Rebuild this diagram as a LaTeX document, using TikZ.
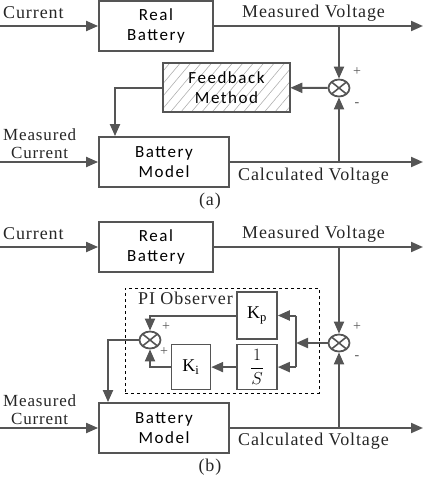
\documentclass[tikz,border=0pt]{standalone}
\usepackage{fontspec}
\setmainfont[LetterSpace=5]{Liberation Serif}
\newfontfamily\blockfont[LetterSpace=9]{Carlito}
\usetikzlibrary{positioning,shapes.geometric,arrows.meta,patterns.meta}
\definecolor{linegray}{HTML}{555555}
\definecolor{hatchgray}{HTML}{B0B0B0}

\begin{document}
\begin{tikzpicture}[x=1pt, y=-1pt,
    block/.style={rectangle, draw=linegray, line width=1.8pt, align=center, inner sep=0pt,
        font=\blockfont\fontsize{17}{20}\selectfont},
    gain/.style={rectangle, draw=linegray, line width=1.6pt, minimum width=40pt, minimum height=45pt,
        inner sep=0pt, font=\fontsize{18}{19}\selectfont},
    sumnode/.style={ellipse, draw=linegray, line width=1.8pt, minimum width=21pt, minimum height=17pt,
        inner sep=0pt, path picture={\draw[linegray, line width=1.6pt]
            (path picture bounding box.north west) -- (path picture bounding box.south east)
            (path picture bounding box.north east) -- (path picture bounding box.south west);}},
    link/.style={draw=linegray, line width=2pt},
    flow/.style={link, -{Triangle[length=12pt, width=10pt]}},
    lbl/.style={inner sep=0pt, text=black!85, font=\fontsize{18}{16}\selectfont},
    twoline/.style={lbl, align=center, font=\fontsize{17}{18}\selectfont},
    sign/.style={inner sep=0pt, text=linegray, font=\fontsize{14}{14}\selectfont}]
    \useasboundingbox (0,0) rectangle (424,477);

    % (a) feedback scheme
    \node[block, minimum width=114pt, minimum height=50pt] (realA) at (156,26) {Real\\Battery};
    \node[block, minimum width=130pt, minimum height=50pt] (modelA) at (164,162) {Battery\\Model};
    \node[block, minimum width=127pt, minimum height=49pt, pattern={Lines[angle=50, distance=8pt, line width=0.6pt]},
        pattern color=hatchgray] (fbA) at (226.5,87.5) {Feedback\\Method};
    \node[sumnode] (sumA) at (339,88) {};
    \coordinate (inA) at (0,26);
    \coordinate (outA) at (423,26);
    \coordinate (inMA) at (0,162);
    \coordinate (outMA) at (423,162);
    \coordinate (dropA) at (115,0);

    \node[lbl, anchor=west] (curA) at (3,13) {Current};
    \node[lbl, anchor=west] (mvA) at (242,13) {Measured Voltage};
    \node[twoline, anchor=west] (mcA) at (3,144) {Measured\\Current};
    \node[lbl, anchor=west] (cvA) at (238,176) {Calculated Voltage};
    \node[lbl] (capA) at (210,201) {(a)};
    \node[sign] (plusA) at (357,72) {+};
    \node[sign] (minusA) at (357,105) {-};

    \draw[flow] (inA) -- (realA);
    \draw[flow] (realA) -- (outA);
    \draw[flow] (realA.east -| sumA) -- (sumA);
    \draw[flow] (inMA) -- (modelA);
    \draw[flow] (modelA) -- (outMA);
    \draw[flow] (modelA.east -| sumA) -- (sumA);
    \draw[flow] (sumA) -- (fbA);
    \draw[flow] (fbA.west) -| (dropA |- modelA.north);

    % (b) PI observer
    \node[block, minimum width=114pt, minimum height=50pt] (realB) at (156,247) {Real\\Battery};
    \node[block, minimum width=130pt, minimum height=50pt] (modelB) at (164,428) {Battery\\Model};
    \node[draw, dashed, line width=0.8pt, minimum width=194pt, minimum height=105pt] (obs) at (222,340.5) {};
    \node[lbl, anchor=west] (obsL) at (138,298) {PI Observer};
    \node[gain, minimum height=47pt] (kp) at (257,315.5) {K\textsubscript{p}};
    \node[gain, below=4pt of kp] (inv) {$\displaystyle\frac{1}{S}$};
    \node[gain, minimum width=39pt, left=25pt of inv] (ki) {K\textsubscript{i}};
    \node[sumnode] (sumPI) at (150,340) {};
    \node[sumnode] (sumB) at (339,343) {};
    \coordinate (inB) at (0,247);
    \coordinate (outB) at (423,247);
    \coordinate (inMB) at (0,428);
    \coordinate (outMB) at (423,428);
    \coordinate (br) at (296,343);
    \coordinate (dropB) at (108,0);

    \node[lbl, anchor=west] (curB) at (3,234) {Current};
    \node[lbl, anchor=west] (mvB) at (242,234) {Measured Voltage};
    \node[twoline, anchor=west] (mcB) at (3,410) {Measured\\Current};
    \node[lbl, anchor=west] (cvB) at (238,441) {Calculated Voltage};
    \node[lbl] (capB) at (210,467) {(b)};
    \node[sign] (plusB) at (357,327) {+};
    \node[sign] (minusB) at (357,358) {-};
    \node[sign] (plusP) at (166,327) {+};
    \node[sign] (plusI) at (164,352) {+};

    \draw[flow] (inB) -- (realB);
    \draw[flow] (realB) -- (outB);
    \draw[flow] (realB.east -| sumB) -- (sumB);
    \draw[flow] (inMB) -- (modelB);
    \draw[flow] (modelB) -- (outMB);
    \draw[flow] (modelB.east -| sumB) -- (sumB);
    \draw[flow] (sumB) -- (br);
    \draw[link] (br |- kp) -- (br |- inv);
    \draw[flow] (br |- kp) -- (kp);
    \draw[flow] (br |- inv) -- (inv);
    \draw[flow] (inv) -- (ki);
    \draw[flow] (kp) -| (sumPI);
    \draw[flow] (ki) -| (sumPI);
    \draw[flow] (sumPI) -| (dropB |- modelB.north);
\end{tikzpicture}
\end{document}
